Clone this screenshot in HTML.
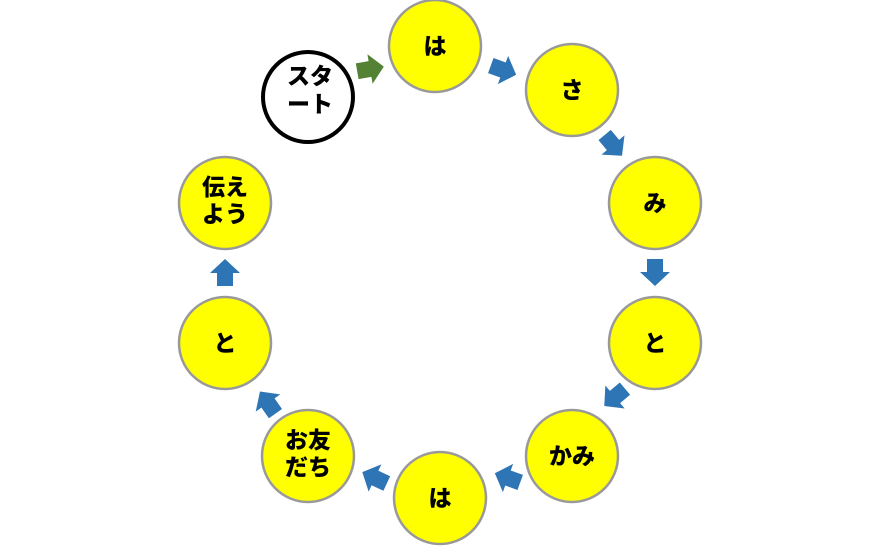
<!DOCTYPE html>
<html><head><meta charset="utf-8"><style>
body{margin:0;background:#fff}
svg text{font-family:"Liberation Sans","Noto Sans CJK JP",sans-serif;font-weight:900;font-size:23px;fill:#000;text-anchor:middle}
</style></head><body>
<svg width="880" height="547" viewBox="0 0 880 547" xmlns="http://www.w3.org/2000/svg">
<defs>
<polygon id="ar" points="-13,-8 0,-8 0,-15 14,0 0,15 0,8 -13,8"/>
</defs>
<g stroke="#999" stroke-width="2.5" fill="#ffff00">
<circle cx="435" cy="46" r="46"/>
<circle cx="572" cy="90" r="46"/>
<circle cx="655" cy="203" r="46"/>
<circle cx="655" cy="343" r="46"/>
<circle cx="572" cy="456" r="46"/>
<circle cx="440" cy="498" r="46"/>
<circle cx="308" cy="456" r="46"/>
<circle cx="225" cy="343" r="46"/>
<circle cx="225" cy="203" r="46"/>
</g>
<circle cx="308" cy="97" r="45" fill="#fff" stroke="#000" stroke-width="4"/>
<use href="#ar" fill="#548235" transform="translate(370,69) rotate(-10)"/>
<g fill="#2e75b6">
<use href="#ar" transform="translate(503,70) rotate(20)"/>
<use href="#ar" transform="translate(613,145) rotate(50)"/>
<use href="#ar" transform="translate(655,272) rotate(90)"/>
<use href="#ar" transform="translate(615,397) rotate(140)"/>
<use href="#ar" transform="translate(508,478) rotate(200)"/>
<use href="#ar" transform="translate(375,478) rotate(205)"/>
<use href="#ar" transform="translate(268,403) rotate(235)"/>
<use href="#ar" transform="translate(225,273) rotate(270)"/>
</g>
<text x="435" y="54">は</text>
<text x="572" y="98">さ</text>
<text x="655" y="211">み</text>
<text x="655" y="351">と</text>
<text x="572" y="464">かみ</text>
<text x="440" y="506">は</text>
<text x="308" y="448">お友</text>
<text x="308" y="475">だち</text>
<text x="225" y="195">伝え</text>
<text x="225" y="222">よう</text>
<text x="225" y="351">と</text>
<text x="310" y="84">スタ</text>
<text x="310" y="112">ート</text>
</svg>
</body></html>
